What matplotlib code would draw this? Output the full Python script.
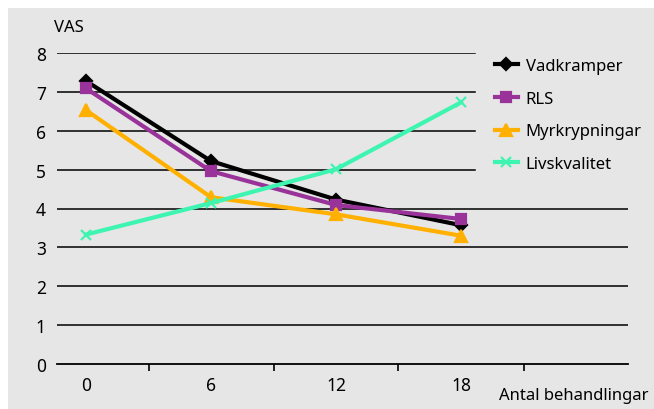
import matplotlib.pyplot as plt
from matplotlib.patches import Rectangle

# data
kategorier = ["0", "6", "12", "18"]
vadkramper = [7.28, 5.22, 4.23, 3.57]
rls = [7.09, 4.96, 4.09, 3.73]
myrkrypningar = [6.53, 4.29, 3.85, 3.3]
livskvalitet = [3.33, 4.14, 5.01, 6.73]

plt.rcParams['font.family'] = ['Noto Sans', 'DejaVu Sans']

fig = plt.figure(figsize=(6.54, 4.10), dpi=100)
fig.patch.set_facecolor('white')
#fond gris
fig.patches.append(Rectangle((8/654, 0), 1, (410-9)/410, transform=fig.transFigure,
                             facecolor='#e6e6e6', edgecolor='none', zorder=-10))

ax = fig.add_axes([57/654, 45/410, 571/654, 311/410])
ax.set_zorder(1)
ax.set_facecolor('none')

x = range(len(kategorier))
series = [
    ("Vadkramper", vadkramper, 'black', 'D', 6),
    ("RLS", rls, '#993399', 's', 7),
    ("Myrkrypningar", myrkrypningar, '#ffb000', '^', 8),
    ("Livskvalitet", livskvalitet, '#3df5b0', 'x', 7),
]
for nom, y, c, m, ms in series:
    ax.plot(x, y, color=c, linewidth=3, marker=m, markersize=ms,
            markeredgewidth=1.6, label=nom, clip_on=False, zorder=3)

ax.set_xlim(-0.232, 4.336)
ax.set_ylim(0, 8)
ax.set_yticks(range(0, 9))
ax.set_xticks(list(x))
ax.set_xticklabels(kategorier)
ax.set_xticks([0.5, 1.5, 2.5, 3.5], minor=True)
ax.tick_params(axis='x', which='major', length=0, pad=9, labelsize=12.5)
ax.tick_params(axis='x', which='minor', length=5, width=1.2, direction='out')
ax.tick_params(axis='y', length=0, pad=8, labelsize=12.5)

for s in ['top', 'right', 'left']:
    ax.spines[s].set_visible(False)
ax.spines['bottom'].set_linewidth(1.3)

#lignes horizontales (les hautes s'arretent avant la legende)
for v in range(1, 9):
    xmax = 1.0 if v <= 4 else (475-57)/571
    ax.axhline(v, xmax=xmax, color='black', linewidth=1.1, zorder=1)

ax.text(-0.02, 8.67, "VAS", ha='right', va='center', fontsize=12)
ax.text(4.5, -0.8, "Antal behandlingar", ha='right', va='center', fontsize=12,
        clip_on=False)

leg = ax.legend(loc='upper left', bbox_to_anchor=(431/571, 1.005), frameon=False,
                fontsize=12, handlelength=1.4, labelspacing=1.0, handletextpad=0.45,
                borderaxespad=0)

fig.savefig("out.png", dpi=100)
